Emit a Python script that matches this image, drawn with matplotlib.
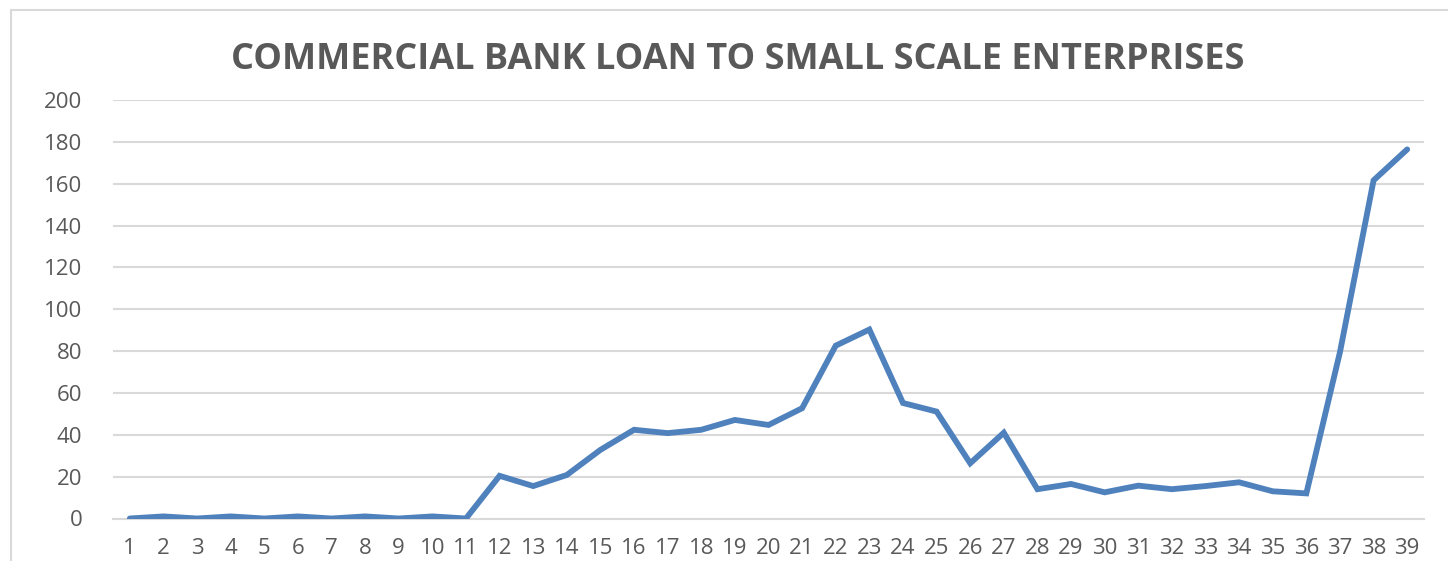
import numpy as np
import matplotlib.pyplot as plt
from matplotlib.patches import Rectangle

# Data
periods = list(range(1, 40))
loans = [0, 1, 0, 1, 0, 1, 0, 1, 0, 1,
         0, 20.4, 15.5, 20.8, 32.8, 42.4, 40.8, 42.4, 47.1, 44.7,
         52.7, 82.6, 90.3, 55.2, 51.1, 26.4, 41, 14, 16.5, 12.5,
         15.7, 14, 15.5, 17.3, 13, 12, 79.5, 161.6, 176.4]
y_ticks = list(range(0, 201, 20))

text_color = "#595959"
grid_color = "#d9d9d9"
line_color = "#4f81bd"

plt.rcParams['font.family'] = ['Open Sans', 'DejaVu Sans']

W, H = 1448, 561
fig = plt.figure(figsize=(W / 100, H / 100), dpi=100)

# chart frame (runs past the right and bottom edge of the picture)
fig.patches.append(Rectangle((11 / W, -0.1), 1.2, 1 - 10 / H + 0.1,
                             transform=fig.transFigure, fill=False,
                             edgecolor="#d9d9d9", linewidth=1.5))

ax = fig.add_axes([113 / W, 1 - 518.5 / H, (1424 - 113) / W, (518.5 - 100) / H])
ax.plot(periods, loans, color=line_color, linewidth=4.2,
        solid_joinstyle="miter", solid_capstyle="round", zorder=3)

ax.set_xlim(0.5, 39.5)
ax.set_ylim(0, 200)
ax.set_yticks(y_ticks)
ax.set_xticks(periods)
ax.set_xticklabels([str(p) for p in periods])
ax.yaxis.grid(True, color=grid_color, linewidth=1.5)
ax.set_axisbelow(True)
for side in ["top", "right", "left"]:
    ax.spines[side].set_visible(False)
ax.spines["bottom"].set_color(grid_color)
ax.spines["bottom"].set_linewidth(1.5)
ax.tick_params(length=0, labelsize=16, colors=text_color)
ax.tick_params(axis="y", pad=22)
ax.tick_params(axis="x", pad=14)

fig.text(738 / W, 1 - 60 / H,
         "COMMERCIAL BANK LOAN TO SMALL SCALE ENTERPRISES",
         ha="center", va="center", fontsize=26, fontweight="bold",
         color=text_color)

fig.savefig("out.png", dpi=100, facecolor="white")
